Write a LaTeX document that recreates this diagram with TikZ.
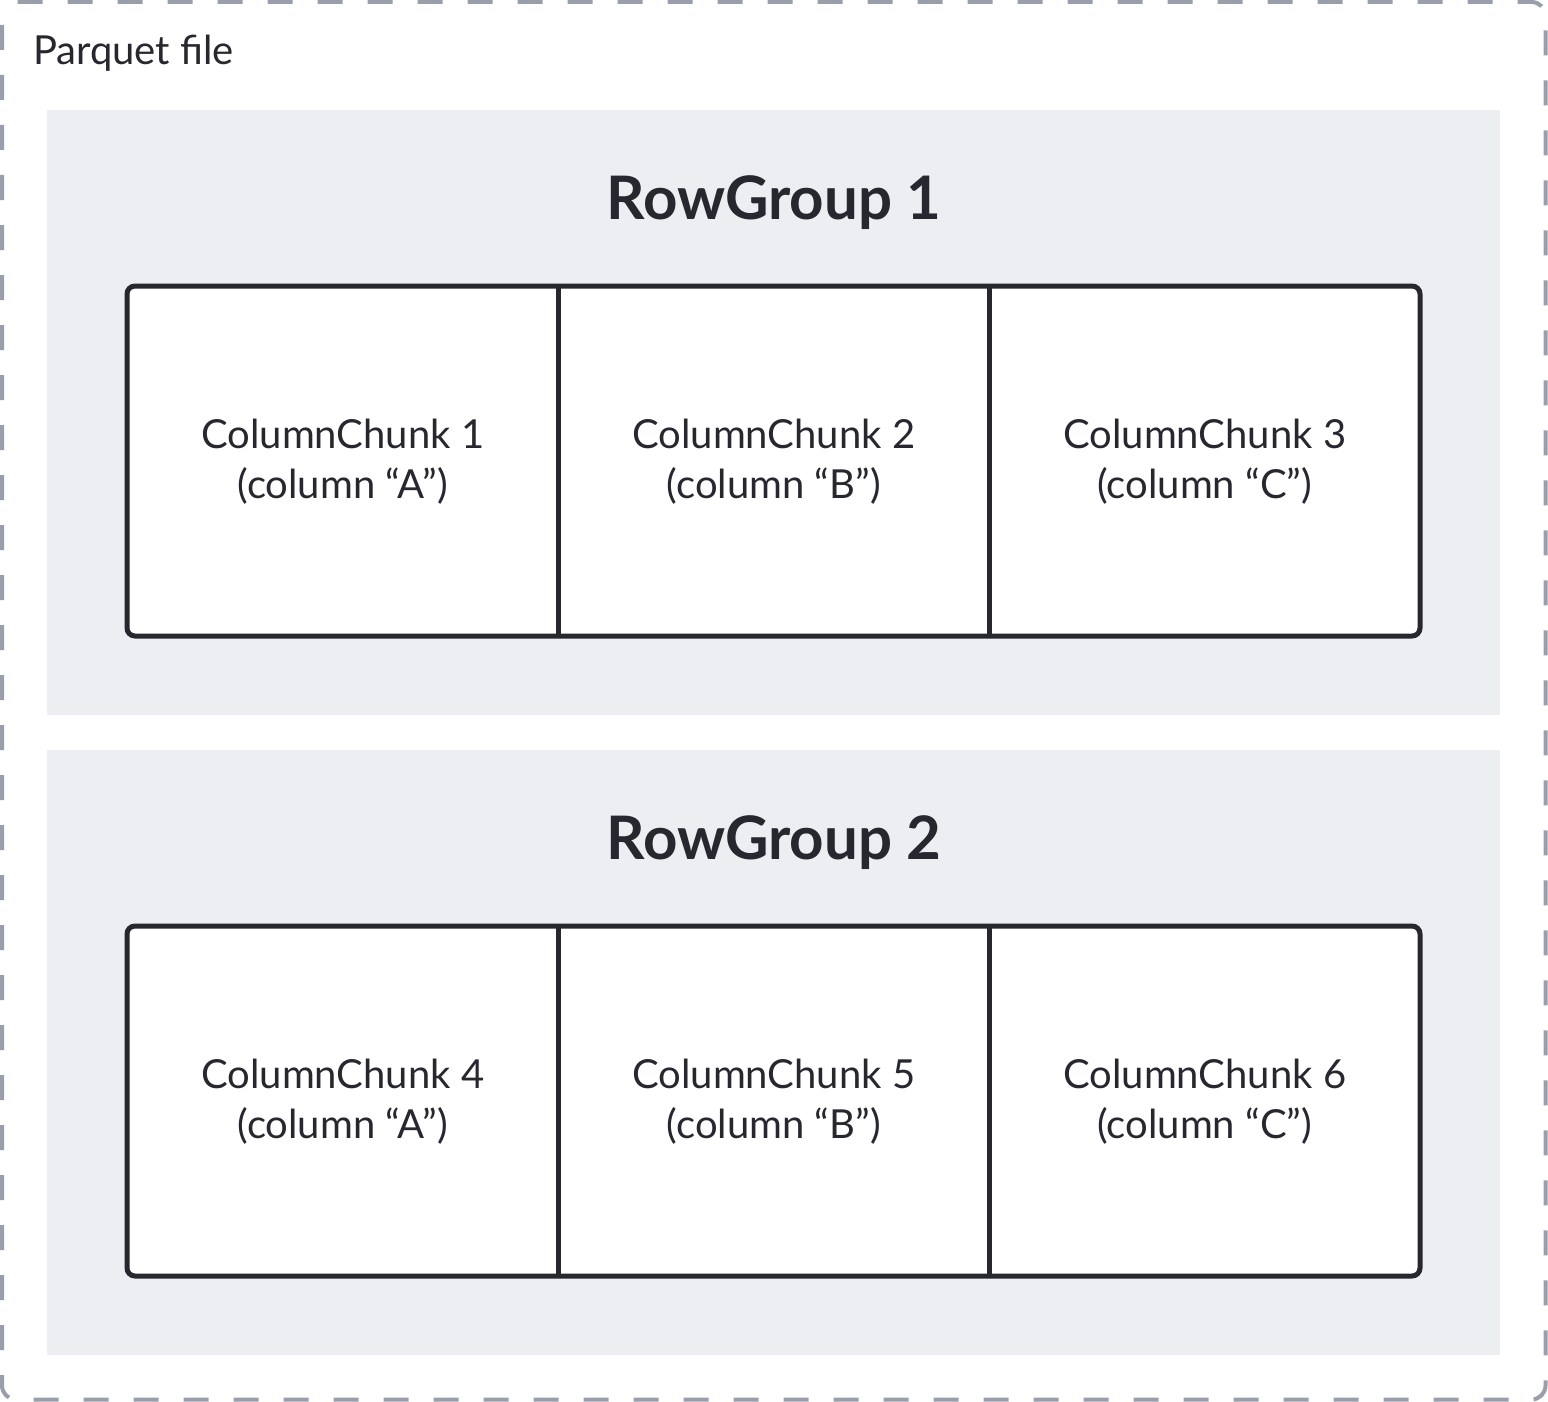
\documentclass[tikz,border=0pt]{standalone}
\usepackage{fontspec}
\setmainfont{Lato}
\definecolor{ink}{HTML}{272730}
\definecolor{panel}{HTML}{EDEEF2}
\definecolor{dashc}{HTML}{9A9EAB}
\begin{document}
\begin{tikzpicture}[x=1pt,y=-1pt,
  panelbox/.style={fill=panel, draw=none},
  chunk/.style={draw=none, minimum width=431pt, minimum height=350pt, inner sep=0pt, anchor=north west, align=center, font=\fontsize{40}{50}\selectfont, text=ink},
  divider/.style={draw=ink, line width=5pt},
  frame/.style={draw=ink, line width=5pt, rounded corners=8pt, fill=white},
  title/.style={font=\fontsize{60}{70}\selectfont\bfseries, text=ink},
  filelabel/.style={font=\fontsize{40}{46}\selectfont, text=ink, anchor=west, inner sep=0pt}]
\useasboundingbox (0,0) rectangle (1548,1402);
\draw[dashc, line width=4pt, dash pattern=on 25pt off 25pt, dash phase=-9pt, rounded corners=14pt] (2,2) rectangle (1545.5,1399.5);
\node[filelabel] (file) at (33,53) {Parquet file};
% Row group 1
\fill[panelbox] (47,110) rectangle (1500,715);
\node[title] (rg1) at (774,203) {RowGroup 1};
\draw[frame] (127,286) rectangle (1420,636);
\node[chunk] (c1) at (127,286) {ColumnChunk 1\\(column “A”)};
\node[chunk] (c2) at (558,286) {ColumnChunk 2\\(column “B”)};
\node[chunk] (c3) at (989,286) {ColumnChunk 3\\(column “C”)};
\draw[divider] (c1.north east) -- (c1.south east);
\draw[divider] (c2.north east) -- (c2.south east);
% Row group 2
\fill[panelbox] (47,750) rectangle (1500,1355);
\node[title] (rg2) at (774,843) {RowGroup 2};
\draw[frame] (127,926) rectangle (1420,1276);
\node[chunk] (c4) at (127,926) {ColumnChunk 4\\(column “A”)};
\node[chunk] (c5) at (558,926) {ColumnChunk 5\\(column “B”)};
\node[chunk] (c6) at (989,926) {ColumnChunk 6\\(column “C”)};
\draw[divider] (c4.north east) -- (c4.south east);
\draw[divider] (c5.north east) -- (c5.south east);
\end{tikzpicture}
\end{document}
